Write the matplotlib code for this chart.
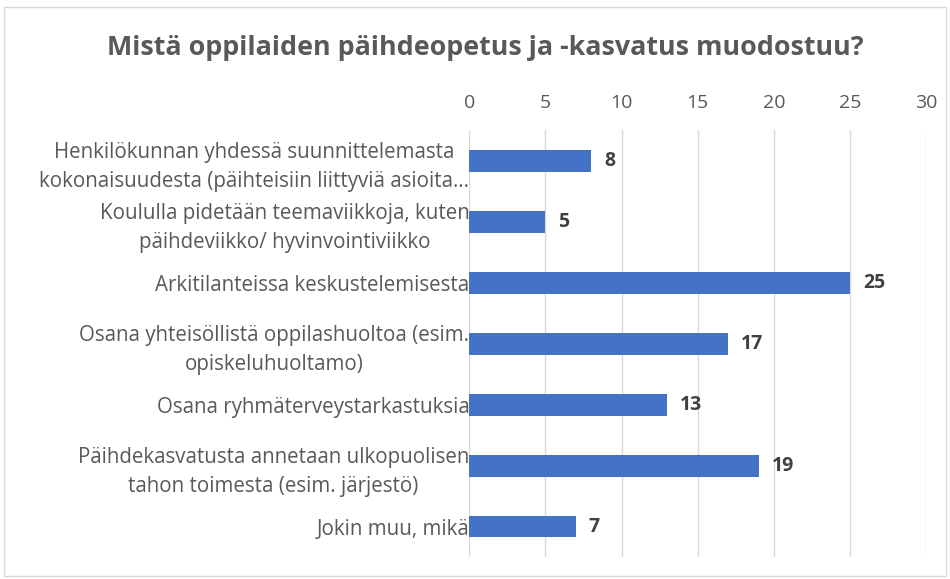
import matplotlib.pyplot as plt
from matplotlib.patches import Rectangle

categories = [
    "Henkilökunnan yhdessä suunnittelemasta\nkokonaisuudesta (päihteisiin liittyviä asioita…",
    "Koululla pidetään teemaviikkoja, kuten\npäihdeviikko/ hyvinvointiviikko",
    "Arkitilanteissa keskustelemisesta",
    "Osana yhteisöllistä oppilashuoltoa (esim.\nopiskeluhuoltamo)",
    "Osana ryhmäterveystarkastuksia",
    "Päihdekasvatusta annetaan ulkopuolisen\ntahon toimesta (esim. järjestö)",
    "Jokin muu, mikä",
]
values = [8, 5, 25, 17, 13, 19, 7]
ticks = [0, 5, 10, 15, 20, 25, 30]

plt.rcParams['font.family'] = ['Open Sans', 'DejaVu Sans']

fig = plt.figure(figsize=(9.5, 5.79), dpi=100)
ax = fig.add_axes([0.494, 0.038, 0.481, 0.737])

y = list(range(len(categories)))
ax.barh(y, values, height=0.36, color='#4472c4', zorder=3)
for yi, v in zip(y, values):
    ax.text(v + 0.85, yi, str(v), va='center', ha='left', fontsize=14,
            fontweight='bold', color='#404040')

ax.set_xlim(0, 30)
ax.set_ylim(len(categories) - 0.5, -0.5)
ax.set_xticks(ticks)
ax.xaxis.tick_top()
ax.tick_params(axis='x', length=0, pad=13, labelsize=14, labelcolor='#595959')
ax.set_yticks(y)
ax.set_yticklabels(categories, fontsize=14.8, color='#595959', ha='right',
                   multialignment='center', linespacing=1.5)
ax.tick_params(axis='y', length=0, pad=0)
ax.grid(axis='x', color='#d9d9d9', linewidth=1, zorder=0)
for s in ax.spines.values():
    s.set_visible(False)

fig.text(0.511, 0.917, "Mistä oppilaiden päihdeopetus ja -kasvatus muodostuu?",
         ha='center', va='center', fontsize=19.4, fontweight='bold', color='#595959')

fig.patches.append(Rectangle((0.004, 0.006), 0.992, 0.982, transform=fig.transFigure,
                             fill=False, edgecolor='#d9d9d9', linewidth=1))

fig.savefig('out.png', dpi=100)
